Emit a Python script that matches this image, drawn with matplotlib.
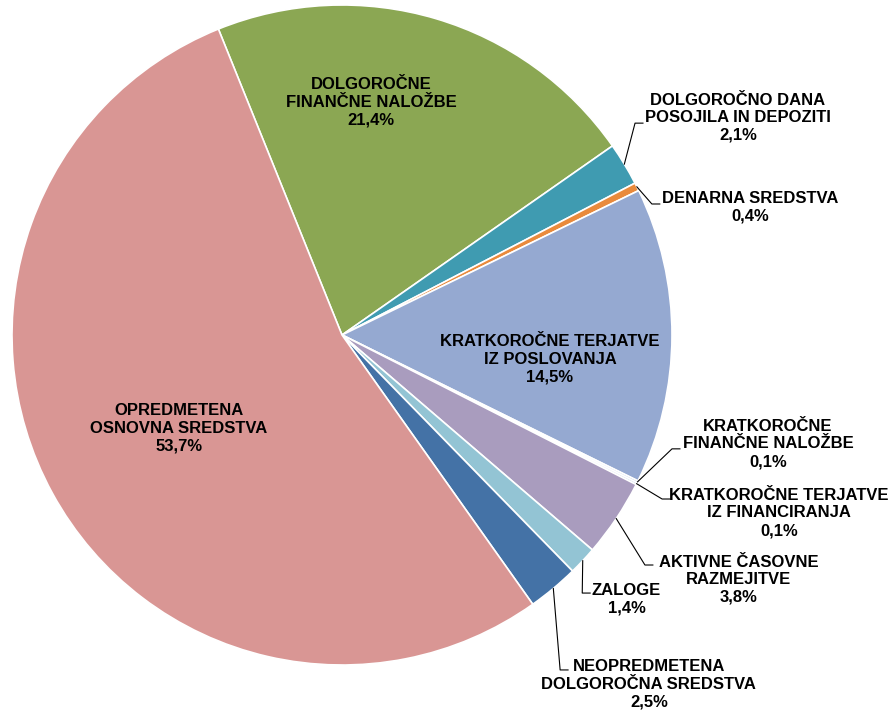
import numpy as np
import matplotlib.pyplot as plt

# podatki (delež v %)
labels = ['DOLGOROČNE\nFINANČNE NALOŽBE',
          'DOLGOROČNO DANA\nPOSOJILA IN DEPOZITI',
          'DENARNA SREDSTVA',
          'KRATKOROČNE TERJATVE\nIZ POSLOVANJA',
          'KRATKOROČNE\nFINANČNE NALOŽBE',
          'KRATKOROČNE TERJATVE\nIZ FINANCIRANJA',
          'AKTIVNE ČASOVNE\nRAZMEJITVE',
          'ZALOGE',
          'NEOPREDMETENA\nDOLGOROČNA SREDSTVA',
          'OPREDMETENA\nOSNOVNA SREDSTVA']
values = [21.4, 2.1, 0.4, 14.5, 0.1, 0.1, 3.8, 1.4, 2.5, 53.7]
colors = ['#8BA753', '#3F9BB1', '#E98A3C', '#95A9D1', '#B9CDE5',
          '#B9CDE5', '#A99CBE', '#93C4D4', '#4472A6', '#D99694']

# položaj napisov (središče besedila) in pregib črte (None = napis v izseku)
label_pos = [(0.088, 0.706), (1.200, 0.658), (1.236, 0.388), (0.630, -0.073),
             (1.291, -0.330), (1.324, -0.539), (1.203, -0.742), (0.862, -0.800),
             (0.930, -1.058), (-0.494, -0.282)]
elbows = [None, (0.888, 0.642), (0.939, 0.397), None,
          (1.000, -0.345), (0.970, -0.497), (0.918, -0.697), (0.728, -0.782),
          (0.661, -1.015), None]
tick_len = 0.024

plt.rcParams['font.family'] = ['Liberation Sans', 'DejaVu Sans']

fig = plt.figure(figsize=(8.92, 7.11), dpi=100, facecolor='white')
ax = fig.add_axes([0, 0, 1, 1])

wedges, _ = ax.pie(values, colors=colors, startangle=112, counterclock=False,
                   radius=1.0,
                   wedgeprops=dict(edgecolor='white', linewidth=1.2))

for w, lab, v, pos, elb in zip(wedges, labels, values, label_pos, elbows):
    txt = lab + '\n' + ('%.1f%%' % v).replace('.', ',')
    ax.text(pos[0], pos[1], txt, ha='center', va='center', fontsize=12,
            fontweight='bold', linespacing=1.22, color='black')
    if elb is not None:
        ang = np.deg2rad((w.theta1 + w.theta2) / 2)
        x0, y0 = np.cos(ang), np.sin(ang)
        ax.plot([x0, elb[0], elb[0] + tick_len], [y0, elb[1], elb[1]],
                color='black', linewidth=0.8)

ax.set_xlim(-342 / 330, 550 / 330)
ax.set_ylim(-376 / 330, 335 / 330)
ax.set_aspect('equal')
ax.axis('off')

plt.savefig('out.png', dpi=100, facecolor='white')
